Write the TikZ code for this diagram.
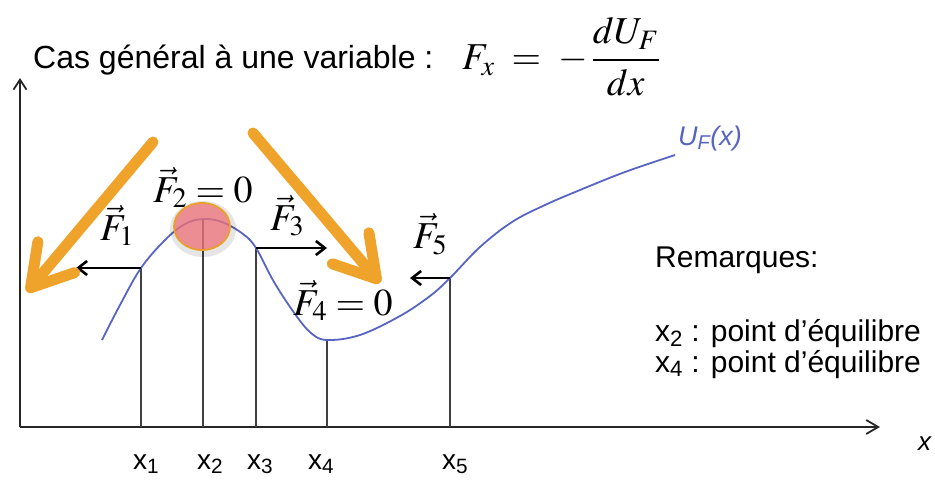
\documentclass[tikz,border=0pt]{standalone}
\usepackage{amsmath}
\usepackage{mathptmx}
\usepackage[no-math]{fontspec}
\setmainfont{Liberation Sans}
\usetikzlibrary{shapes.geometric, arrows.meta}
\definecolor{bleucourbe}{RGB}{88,100,196}
\definecolor{orangefl}{RGB}{240,163,42}
\definecolor{rougeboule}{RGB}{231,112,120}
\definecolor{bordboule}{RGB}{232,160,40}
\tikzset{
  axe/.style={line width=1.8pt, black!85, -{Straight Barb[length=12pt,width=14pt]}},
  courbe/.style={line width=1.8pt, bleucourbe},
  verticale/.style={line width=1.1pt, black!75},
  force/.style={line width=2.6pt, black, -{Straight Barb[length=9pt,width=14pt]}},
  grossefleche/.style={line width=11pt, orangefl, line cap=round, -{Straight Barb[round,length=40pt,width=48pt]}},
  vecteur/.style={anchor=base west, inner sep=0pt, font=\fontsize{38}{44}\selectfont},
  texte/.style={anchor=base west, inner sep=0pt, font=\fontsize{30}{36}\selectfont},
  abscisse/.style={anchor=base west, inner sep=0pt, font=\fontsize{28}{32}\selectfont},
  boule/.style={ellipse, minimum width=56pt, minimum height=47pt, inner sep=0pt, draw=bordboule, line width=1.8pt, fill=rougeboule, fill opacity=0.8}
}
\begin{document}
\begin{tikzpicture}[x=1pt, y=-1pt]
    \useasboundingbox (0,0) rectangle (935,480);

    % --- axes
    \coordinate (O) at (20,427);
    \coordinate (xfin) at (880,427);
    \coordinate (yfin) at (20,78);
    \draw [axe] (O) -- (xfin);
    \draw [axe, -{Straight Barb[length=10pt,width=13pt]}] (O) -- (yfin);
    \node (xlab) [texte, font=\fontsize{26}{30}\selectfont\itshape] at (918,450) {x};

    % --- points remarquables et pieds sur l'axe
    \coordinate (p1) at (141,268);
    \coordinate (p2) at (203,219);
    \coordinate (p3) at (256,248);
    \coordinate (p4) at (327,340);
    \coordinate (p5) at (450,278);
    \foreach \i/\x in {1/141, 2/203, 3/256, 4/327, 5/450}
        \coordinate (b\i) at (\x,427);
    \foreach \i in {1,...,5}
        \draw [verticale] (p\i) -- (b\i);

    % --- courbe U_F(x)
    \draw [courbe] plot [smooth, tension=0.6] coordinates {(102,340) (120,305) (p1) (165,240) (185,224) (p2) (222,222) (243,234) (p3) (274,282) (295,314) (311,333) (p4) (360,335) (400,316) (430,296) (p5) (480,247) (512,222) (545,205) (580,190) (625,172) (675,155)};
    \node (UF) [texte, font=\fontsize{27}{30}\selectfont\itshape, text=bleucourbe] at (678,145) {U\textsubscript{F}(x)};

    % --- forces
    \coordinate (t1) at (76,268);
    \coordinate (t3) at (327,248);
    \coordinate (t5) at (410,278);
    \draw [force] (p1) -- (t1);
    \draw [force] (p3) -- (t3);
    \draw [force] (p5) -- (t5);
    \node (F1) [vecteur] at (100,240) {$\vec{F}_1$};
    \node (F2) [vecteur] at (153,202) {$\vec{F}_2 = 0$};
    \node (F3) [vecteur] at (270,230) {$\vec{F}_3$};
    \node (F4) [vecteur] at (293,315) {$\vec{F}_4 = 0$};
    \node (F5) [vecteur] at (413,248) {$\vec{F}_5$};

    % --- boule au sommet
    \fill [black, opacity=0.10, even odd rule] (203,229) ellipse (33 and 28) (202,226.5) ellipse (28 and 23.5);
    \node (boule) [boule] at (202,226.5) {};

    % --- grosses fleches orange
    \coordinate (g1) at (153,142);
    \coordinate (g1t) at (27,292);
    \coordinate (g2) at (253,133);
    \coordinate (g2t) at (380,283);
    \draw [grossefleche] (g1) -- (g1t);
    \draw [grossefleche] (g2) -- (g2t);

    % --- textes
    \node (titre) [texte, font=\fontsize{32}{36}\selectfont] at (33,68) {Cas général à une variable :};
    \node (formule) [font=\fontsize{38}{44}\selectfont] at (561,57) {$F_x \;=\; -\,\dfrac{dU_F}{dx}$};
    \node (rem) [texte] at (655,267) {Remarques:};
    \node (eq2) [texte] at (655,341) {x\textsubscript{2} : point d’équilibre};
    \node (eq4) [texte] at (655,372) {x\textsubscript{4} : point d’équilibre};

    % --- abscisses
    \node (lx1) [abscisse] at (133,469) {x\textsubscript{1}};
    \node (lx2) [abscisse] at (197,469) {x\textsubscript{2}};
    \node (lx3) [abscisse] at (247,469) {x\textsubscript{3}};
    \node (lx4) [abscisse] at (308,469) {x\textsubscript{4}};
    \node (lx5) [abscisse] at (442,469) {x\textsubscript{5}};
\end{tikzpicture}
\end{document}
